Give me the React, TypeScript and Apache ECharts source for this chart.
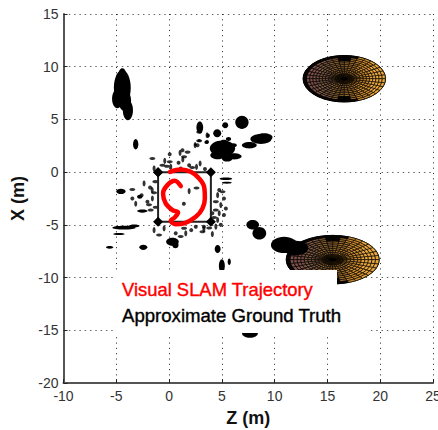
import React, { useEffect, useRef } from "react";
import * as echarts from "echarts";

const xTicksMin = -10, xTicksMax = 25, yTicksMin = -20, yTicksMax = 15, tickStep = 5;

// Trajectory [z, x]
const trajectory = [
  [1.11,-1.32],[0.54,-0.82],[-0.16,-1.23],[-0.57,-2.02],[-0.32,-2.97],[0.32,-3.6],[0.85,-3.82],
  [0.54,-4.29],[0.16,-4.6],[0.63,-4.95],[1.42,-4.86],[2.53,-4.23],[3.16,-3.44],[3.39,-2.49],
  [3.32,-1.39],[2.85,-0.6],[2.06,0.03],[1.11,0.25],[0.09,0.03],
];
const groundTruth = [[-1.04,0],[3.96,0],[3.96,-4.7],[-1.04,-4.7],[-1.04,0]];

// Large landmark clusters [z, x, radius z, radius x]
const largeBlobs = [
  [-4.43,8.0,0.8,1.7],[-4.9,6.97,0.5,0.9],[-3.9,5.87,0.48,0.95],[-4.43,9.3,0.35,0.55],[-4.2,6.8,0.6,1.0],
  [-3.16,2.65,0.25,0.5],[2.91,4.23,0.32,0.57],[3.7,3.47,0.16,0.2],[4.56,3.69,0.38,0.38],
  [5.32,4.45,0.28,0.28],[6.9,4.73,0.63,0.63],[2.85,3.0,0.16,0.13],[3.54,2.84,0.19,0.16],
  [2.5,2.59,0.13,0.13],[5.63,3.15,0.25,0.19],[6.1,2.55,0.32,0.19],[8.7,3.15,1.0,0.47],[9.0,3.3,0.8,0.4],
  [7.6,2.55,0.7,0.3],[5.06,2.24,1.2,0.75],[4.6,1.6,0.7,0.38],[6.17,1.5,0.7,0.3],[5.2,2.7,0.47,0.38],[5.5,1.3,0.5,0.3],
  [-4.56,-1.83,0.44,0.25],[-2.78,-2.33,0.25,0.19],[-2.53,-3.69,0.5,0.15],[-4.27,-5.27,1.1,0.18],
  [-3.3,-5.1,0.5,0.13],[-4.75,-5.87,0.55,0.1],[-5.63,-7.13,0.35,0.13],[-2.44,-7.13,0.38,0.25],
  [0.32,-6.6,0.6,0.38],[0.6,-6.9,0.3,0.32],[4.6,-7.3,0.28,0.38],[5.0,-8.9,0.28,0.63],[5.7,-8.5,0.15,0.3],
  [7.92,-5.0,0.6,0.45],[8.55,-5.8,0.65,0.6],[10.9,-6.9,1.25,0.78],[12,-7.2,1.2,0.7],[7.66,-15.3,0.75,0.4],
  [5.38,-0.63,0.6,0.12],[5.47,-1.0,0.47,0.09],
];
// Small landmark points [z, x]
const smallBlobs = [
  [-1.58,1.29],[-0.41,1.07],[0.06,1.7],[0.06,0.98],[0.16,0.5],[1.27,2.08],[1.42,1.45],[1.04,1.83],
  [1.9,0.66],[2.2,0.44],[2.94,0.82],[1.1,0.35],[-0.63,0.66],[-1.42,0.35],[2.7,2.56],[2.85,3.8],
  [3.6,3.5],[3.6,2.87],[2.85,2.97],[2.47,2.56],[4.75,-1.7],[5.06,-1.86],[4.6,-2.18],[5.2,-2.5],
  [4.43,-2.8],[4.9,-3.12],[5.38,-3.44],[4.43,-3.6],[4.75,-3.9],[5.2,-4.07],[4.27,-4.3],[4.6,-4.54],
  [4.1,-3.9],[-3.48,-1.64],[-2.37,-1.07],[-1.8,-1.45],[-1.42,-1.96],[-1.58,-2.5],[-2.05,-2.8],
  [-1.27,-3.34],[-3.16,-3.0],[-3.48,-2.5],[-1.74,-3.6],[-1.42,-5.5],[0.63,-5.8],[1.1,-6.1],[1.58,-5.8],
  [2.53,-5.17],[3.16,-5.65],[4.1,-5.87],[3.3,-5.17],[1.42,-5.33],[-0.47,-5.33],[0.47,-6.44],[-0.95,-5.96],
  [4.43,-5.17],[4.9,-5.0],[1.75,1.9],[1.3,1.2],[0.9,0.9],[-0.2,0.55],[2.6,0.5],[3.4,0.3],[-1.3,-0.9],[-1.6,-1.7],
  [-2.6,-2.2],[-1.9,-3.1],[3.3,-5.4],[2.1,-5.5],[3.8,-5.3],[1.9,-1.8],[1.4,-3.0],[2.6,-1.5],
];
// Tables [centre z, centre x, radius z, radius x]
const discs = [[16.6,8.86,3.9,2.2],[15.5,-8.3,4.4,2.3]];
const discWarm = ["#7a5048","#7d5a44","#8f6636","#a87430","#d08e30","#e8a63e"];

const redLabel = "Visual SLAM Trajectory";
const blackLabel = "Approximate Ground Truth";

function discItem(params: any, api: any) {
  const [cz, cx, rz, rx] = [api.value(0), api.value(1), api.value(2), api.value(3)];
  const rings = 13, sectors = 36;
  const children: any[] = [];
  const pt = (r: number, a: number) => api.coord([cz + rz * r * Math.cos(a), cx + rx * r * Math.sin(a)]);
  const outer = [api.coord([cz - rz, cx]), api.coord([cz + rz, cx]), api.coord([cz, cx + rx]), api.coord([cz, cx - rx])];
  const cpx = (outer[0][0] + outer[1][0]) / 2, cpy = (outer[2][1] + outer[3][1]) / 2;
  children.push({ type: "ellipse", shape: { cx: cpx, cy: cpy, rx: (outer[1][0] - outer[0][0]) / 2, ry: (outer[3][1] - outer[2][1]) / 2 }, style: { fill: "#000", stroke: "#000", lineWidth: 1 } });
  for (let i = 1; i < rings; i++) {
    for (let j = 0; j < sectors; j++) {
      const a0 = (j / sectors) * Math.PI * 2, a1 = ((j + 1) / sectors) * Math.PI * 2;
      const r0 = i / rings, r1 = (i + 1) / rings;
      const am = (a0 + a1) / 2;
      const t = (r1 * Math.cos(am) + 1) / 2;
      const color = discWarm[Math.min(discWarm.length - 1, Math.floor(t * discWarm.length))];
      const vert = Math.abs(Math.sin(am));
      const dark = (i === rings - 1 && Math.cos(am) < 0.3) || (vert > 0.97 && i > 9);
      children.push({
        type: "polygon",
        shape: { points: [pt(r0, a0), pt(r1, a0), pt(r1, a1), pt(r0, a1)] },
        style: { fill: dark ? "#0a0603" : color, stroke: "#000", lineWidth: 0.6, opacity: i < 3 ? 0.25 : 1 },
      });
    }
  }
  return { type: "group", children };
}

function blobItem(params: any, api: any) {
  const c = api.coord([api.value(0), api.value(1)]);
  const s = api.size([api.value(2), api.value(3)]);
  return { type: "ellipse", shape: { cx: c[0], cy: c[1], rx: s[0], ry: s[1] }, style: { fill: "#000" } };
}

export default function App() {
  const ref = useRef<HTMLDivElement>(null);
  useEffect(() => {
    const chart = echarts.init(ref.current!, undefined, { renderer: "svg" });
    const font = "'Liberation Sans', Arial, sans-serif";
    const axisBase = {
      type: "value", interval: tickStep, nameLocation: "middle",
      nameTextStyle: { fontFamily: font, fontWeight: "bold", fontSize: 18, color: "#111" },
      axisLine: { show: true, onZero: false, lineStyle: { color: "#555", width: 2 } },
      axisTick: { show: true, inside: true, length: 4, lineStyle: { color: "#222", width: 1 } },
      axisLabel: { fontFamily: font, fontSize: 14, color: "#333", hideOverlap: false, showMinLabel: true, showMaxLabel: true },
    };
    chart.setOption({
      animation: false,
      backgroundColor: "#fff",
      grid: { left: 63.5, right: 5, top: 14, bottom: 47, outerBoundsMode: "none" },
      xAxis: {
        ...axisBase, min: xTicksMin, max: xTicksMax, name: "Z (m)", nameGap: 26,
        axisLabel: { ...axisBase.axisLabel, margin: 6 },
        splitLine: { show: true, lineStyle: { color: "#222", width: 1, type: [1, 4.3] } },
      },
      yAxis: {
        ...axisBase, min: yTicksMin, max: yTicksMax, name: "X (m)", nameGap: 32,
        axisLabel: { ...axisBase.axisLabel, margin: 5 },
        splitLine: { show: true, lineStyle: { color: "#666", width: 1, type: [1.5, 3.8] } },
      },
      series: [
        { type: "custom", data: discs, renderItem: discItem, clip: true, z: 2, silent: true },
        { type: "custom", data: largeBlobs, renderItem: blobItem, clip: true, z: 3, silent: true },
        { type: "scatter", data: smallBlobs, symbol: "circle", symbolSize: (_: any, p: any) => (p.dataIndex % 3 === 0 ? [6, 3] : p.dataIndex % 3 === 1 ? [3, 6] : [4, 4]), itemStyle: { color: "#000" }, z: 3, silent: true },
        { type: "line", data: groundTruth, symbol: "diamond", symbolSize: 10, itemStyle: { color: "#000" }, lineStyle: { color: "#222", width: 2 }, z: 4, silent: true },
        { type: "line", data: trajectory, symbol: "none", smooth: 0.35, lineStyle: { color: "#f00", width: 4.5, cap: "round", join: "round" }, z: 5, silent: true },
      ],
      graphic: [
        { type: "rect", z: 100, shape: { x: 115, y: 270, width: 222, height: 20 }, style: { fill: "#fff" } },
        { type: "rect", z: 100, shape: { x: 115, y: 285, width: 252, height: 48 }, style: { fill: "#fff" } },
        { type: "text", z: 101, x: 122, y: 289, style: { text: redLabel, fill: "#f00", stroke: "#f00", lineWidth: 0.4, font: `18.4px ${font}`, textVerticalAlign: "middle" } },
        { type: "text", z: 101, x: 122, y: 315, style: { text: blackLabel, fill: "#000", stroke: "#000", lineWidth: 0.4, font: `18.6px ${font}`, textVerticalAlign: "middle" } },
      ],
    });
    return () => chart.dispose();
  }, []);
  return <div ref={ref} style={{ position: "absolute", left: 0, top: 0, width: 438, height: 430 }} />;
}
